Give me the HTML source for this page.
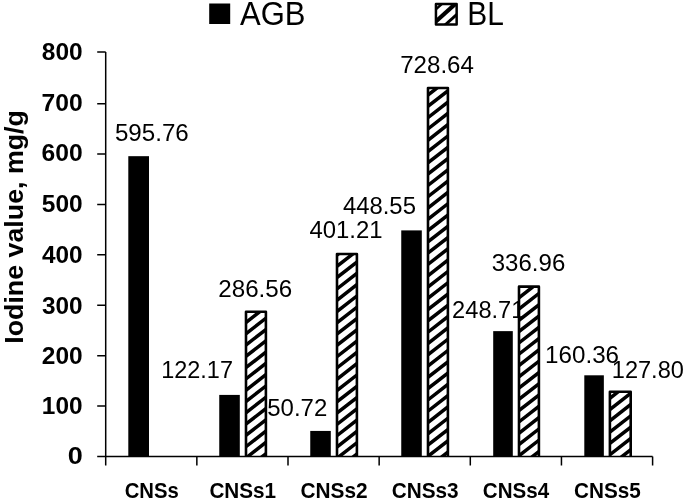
<!DOCTYPE html>
<html lang="en">
<head>
<meta charset="utf-8">
<title>Iodine value chart</title>
<style>
html,body{margin:0;padding:0;background:#fff;}
body{width:685px;height:500px;overflow:hidden;}
svg{display:block;font-family:"Liberation Sans",Arial,sans-serif;fill:#000;filter:blur(0.35px);}
</style>
</head>
<body>
<svg width="685" height="500" viewBox="0 0 685 500" role="img" aria-label="Iodine value bar chart">
<rect x="0" y="0" width="685" height="500" fill="#fff"/>
<g id="bars">
<rect x="128.30" y="156.18" width="20.70" height="300.32"/>
<rect x="219.25" y="394.91" width="20.55" height="61.59"/>
<clipPath id="c1"><rect x="246.00" y="311.70" width="19.90" height="144.80"/></clipPath><path clip-path="url(#c1)" d="M243.00 302.19L268.90 281.99M243.00 313.48L268.90 293.28M243.00 324.77L268.90 304.57M243.00 336.06L268.90 315.86M243.00 347.35L268.90 327.15M243.00 358.64L268.90 338.44M243.00 369.93L268.90 349.73M243.00 381.22L268.90 361.02M243.00 392.51L268.90 372.31M243.00 403.80L268.90 383.60M243.00 415.09L268.90 394.89M243.00 426.38L268.90 406.18M243.00 437.67L268.90 417.47M243.00 448.96L268.90 428.76M243.00 460.25L268.90 440.05M243.00 471.54L268.90 451.34M243.00 482.83L268.90 462.63M243.00 494.12L268.90 473.92" stroke="#000" stroke-width="3.5" fill="none"/>
<path d="M246.00 456.50V311.70H265.90V456.50" fill="none" stroke="#000" stroke-width="2.6" stroke-linejoin="round"/>
<rect x="310.25" y="430.93" width="20.55" height="25.57"/>
<clipPath id="c2"><rect x="337.00" y="254.00" width="19.90" height="202.50"/></clipPath><path clip-path="url(#c2)" d="M334.00 234.76L359.90 214.56M334.00 246.05L359.90 225.85M334.00 257.34L359.90 237.14M334.00 268.63L359.90 248.43M334.00 279.92L359.90 259.72M334.00 291.21L359.90 271.01M334.00 302.50L359.90 282.30M334.00 313.79L359.90 293.59M334.00 325.08L359.90 304.88M334.00 336.37L359.90 316.17M334.00 347.66L359.90 327.46M334.00 358.95L359.90 338.75M334.00 370.24L359.90 350.04M334.00 381.53L359.90 361.33M334.00 392.82L359.90 372.62M334.00 404.11L359.90 383.91M334.00 415.40L359.90 395.20M334.00 426.69L359.90 406.49M334.00 437.98L359.90 417.78M334.00 449.27L359.90 429.07M334.00 460.56L359.90 440.36M334.00 471.85L359.90 451.65M334.00 483.14L359.90 462.94M334.00 494.43L359.90 474.23" stroke="#000" stroke-width="3.5" fill="none"/>
<path d="M337.00 456.50V254.00H356.90V456.50" fill="none" stroke="#000" stroke-width="2.6" stroke-linejoin="round"/>
<rect x="401.25" y="230.39" width="20.55" height="226.11"/>
<clipPath id="c3"><rect x="428.00" y="88.00" width="19.90" height="368.50"/></clipPath><path clip-path="url(#c3)" d="M425.00 74.79L450.90 54.59M425.00 86.08L450.90 65.88M425.00 97.37L450.90 77.17M425.00 108.66L450.90 88.46M425.00 119.95L450.90 99.75M425.00 131.24L450.90 111.04M425.00 142.53L450.90 122.33M425.00 153.82L450.90 133.62M425.00 165.11L450.90 144.91M425.00 176.40L450.90 156.20M425.00 187.69L450.90 167.49M425.00 198.98L450.90 178.78M425.00 210.27L450.90 190.07M425.00 221.56L450.90 201.36M425.00 232.85L450.90 212.65M425.00 244.14L450.90 223.94M425.00 255.43L450.90 235.23M425.00 266.72L450.90 246.52M425.00 278.01L450.90 257.81M425.00 289.30L450.90 269.10M425.00 300.59L450.90 280.39M425.00 311.88L450.90 291.68M425.00 323.17L450.90 302.97M425.00 334.46L450.90 314.26M425.00 345.75L450.90 325.55M425.00 357.04L450.90 336.84M425.00 368.33L450.90 348.13M425.00 379.62L450.90 359.42M425.00 390.91L450.90 370.71M425.00 402.20L450.90 382.00M425.00 413.49L450.90 393.29M425.00 424.78L450.90 404.58M425.00 436.07L450.90 415.87M425.00 447.36L450.90 427.16M425.00 458.65L450.90 438.45M425.00 469.94L450.90 449.74M425.00 481.23L450.90 461.03M425.00 492.52L450.90 472.32" stroke="#000" stroke-width="3.5" fill="none"/>
<path d="M428.00 456.50V88.00H447.90V456.50" fill="none" stroke="#000" stroke-width="2.6" stroke-linejoin="round"/>
<rect x="493.20" y="331.13" width="19.60" height="125.37"/>
<clipPath id="c4"><rect x="519.00" y="286.64" width="19.90" height="169.86"/></clipPath><path clip-path="url(#c4)" d="M516.00 277.45L541.90 257.25M516.00 288.74L541.90 268.54M516.00 300.03L541.90 279.83M516.00 311.32L541.90 291.12M516.00 322.61L541.90 302.41M516.00 333.90L541.90 313.70M516.00 345.19L541.90 324.99M516.00 356.48L541.90 336.28M516.00 367.77L541.90 347.57M516.00 379.06L541.90 358.86M516.00 390.35L541.90 370.15M516.00 401.64L541.90 381.44M516.00 412.93L541.90 392.73M516.00 424.22L541.90 404.02M516.00 435.51L541.90 415.31M516.00 446.80L541.90 426.60M516.00 458.09L541.90 437.89M516.00 469.38L541.90 449.18M516.00 480.67L541.90 460.47M516.00 491.96L541.90 471.76" stroke="#000" stroke-width="3.5" fill="none"/>
<path d="M519.00 456.50V286.64H538.90V456.50" fill="none" stroke="#000" stroke-width="2.6" stroke-linejoin="round"/>
<rect x="584.30" y="375.30" width="19.55" height="81.20"/>
<clipPath id="c5"><rect x="609.90" y="391.70" width="20.80" height="64.80"/></clipPath><path clip-path="url(#c5)" d="M606.90 377.97L633.70 357.07M606.90 389.26L633.70 368.36M606.90 400.55L633.70 379.65M606.90 411.84L633.70 390.94M606.90 423.13L633.70 402.23M606.90 434.42L633.70 413.52M606.90 445.71L633.70 424.81M606.90 457.00L633.70 436.10M606.90 468.29L633.70 447.39M606.90 479.58L633.70 458.68M606.90 490.87L633.70 469.97" stroke="#000" stroke-width="3.5" fill="none"/>
<path d="M609.90 456.50V391.70H630.70V456.50" fill="none" stroke="#000" stroke-width="2.6" stroke-linejoin="round"/>
</g>
<g id="axes" stroke="#000" stroke-width="1.5" fill="none">
<path d="M105.7 52.10V465.50"/>
<path d="M97.2 456.5H652.60"/>
<path d="M97.2 406.09H105.7M97.2 355.68H105.7M97.2 305.27H105.7M97.2 254.86H105.7M97.2 204.45H105.7M97.2 154.04H105.7M97.2 103.63H105.7M97.2 52.10H105.7M196.85 456.5V465.50M288.00 456.5V465.50M379.15 456.5V465.50M470.30 456.5V465.50M561.45 456.5V465.50M652.60 456.5V465.50"/>
</g>
<g id="legend">
<rect x="209.2" y="3.5" width="21" height="20.5"/>
<clipPath id="clg"><rect x="435.95" y="3.95" width="20.70" height="20.60"/></clipPath>
<g clip-path="url(#clg)" stroke="#000" fill="none"><path d="M430.90 13.80L462.90 -15.00" stroke-width="2.5"/><path d="M430.90 25.90L462.90 -2.90" stroke-width="4.2"/><path d="M430.90 37.70L462.90 8.90" stroke-width="2.9"/></g>
<rect x="435.95" y="3.95" width="20.70" height="20.60" fill="none" stroke="#000" stroke-width="2.5" stroke-linejoin="round"/>
</g>
<g id="labels">
<text x="240.00" y="24.80" font-size="33.00" textLength="65.51" lengthAdjust="spacingAndGlyphs">AGB</text>
<text x="467.21" y="24.80" font-size="33.04" textLength="36.59" lengthAdjust="spacingAndGlyphs">BL</text>
<text x="67.72" y="464.40" font-size="23.57" font-weight="bold" textLength="15.03" lengthAdjust="spacingAndGlyphs">0</text>
<text x="41.84" y="414.09" font-size="23.57" font-weight="bold" textLength="40.71" lengthAdjust="spacingAndGlyphs">100</text>
<text x="41.77" y="363.98" font-size="23.57" font-weight="bold" textLength="40.88" lengthAdjust="spacingAndGlyphs">200</text>
<text x="42.01" y="313.67" font-size="23.57" font-weight="bold" textLength="40.63" lengthAdjust="spacingAndGlyphs">300</text>
<text x="42.01" y="262.86" font-size="23.57" font-weight="bold" textLength="40.63" lengthAdjust="spacingAndGlyphs">400</text>
<text x="41.77" y="211.95" font-size="23.57" font-weight="bold" textLength="40.88" lengthAdjust="spacingAndGlyphs">500</text>
<text x="41.51" y="161.04" font-size="23.57" font-weight="bold" textLength="41.14" lengthAdjust="spacingAndGlyphs">600</text>
<text x="41.51" y="110.83" font-size="23.57" font-weight="bold" textLength="41.14" lengthAdjust="spacingAndGlyphs">700</text>
<text x="41.77" y="60.00" font-size="23.57" font-weight="bold" textLength="40.88" lengthAdjust="spacingAndGlyphs">800</text>
<text x="124.71" y="498.00" font-size="22.00" font-weight="bold" textLength="54.07" lengthAdjust="spacingAndGlyphs">CNSs</text>
<text x="209.40" y="498.00" font-size="22.00" font-weight="bold" textLength="66.72" lengthAdjust="spacingAndGlyphs">CNSs1</text>
<text x="300.54" y="498.00" font-size="22.00" font-weight="bold" textLength="67.14" lengthAdjust="spacingAndGlyphs">CNSs2</text>
<text x="391.69" y="498.00" font-size="22.00" font-weight="bold" textLength="66.93" lengthAdjust="spacingAndGlyphs">CNSs3</text>
<text x="482.85" y="498.00" font-size="22.00" font-weight="bold" textLength="66.30" lengthAdjust="spacingAndGlyphs">CNSs4</text>
<text x="574.00" y="498.00" font-size="22.00" font-weight="bold" textLength="66.72" lengthAdjust="spacingAndGlyphs">CNSs5</text>
<text x="114.93" y="140.60" font-size="23.14" textLength="73.84" lengthAdjust="spacingAndGlyphs">595.76</text>
<text x="161.22" y="378.00" font-size="23.14" textLength="71.72" lengthAdjust="spacingAndGlyphs">122.17</text>
<text x="218.29" y="296.70" font-size="23.14" textLength="73.88" lengthAdjust="spacingAndGlyphs">286.56</text>
<text x="267.24" y="415.90" font-size="23.14" textLength="60.02" lengthAdjust="spacingAndGlyphs">50.72</text>
<text x="309.42" y="237.50" font-size="23.14" textLength="73.14" lengthAdjust="spacingAndGlyphs">401.21</text>
<text x="342.92" y="214.20" font-size="23.14" textLength="73.00" lengthAdjust="spacingAndGlyphs">448.55</text>
<text x="400.20" y="72.90" font-size="23.14" textLength="73.69" lengthAdjust="spacingAndGlyphs">728.64</text>
<text x="452.12" y="317.60" font-size="23.14" textLength="72.23" lengthAdjust="spacingAndGlyphs">248.71</text>
<text x="491.74" y="270.50" font-size="23.14" textLength="73.53" lengthAdjust="spacingAndGlyphs">336.96</text>
<text x="545.06" y="362.50" font-size="23.14" textLength="74.01" lengthAdjust="spacingAndGlyphs">160.36</text>
<text x="611.81" y="378.40" font-size="23.14" textLength="72.10" lengthAdjust="spacingAndGlyphs">127.80</text>
<text transform="rotate(-90)" x="-343.78" y="23.1" font-size="26.38" font-weight="bold" textLength="233.68" lengthAdjust="spacingAndGlyphs">Iodine value, mg/g</text>
</g>
</svg>
</body>
</html>
